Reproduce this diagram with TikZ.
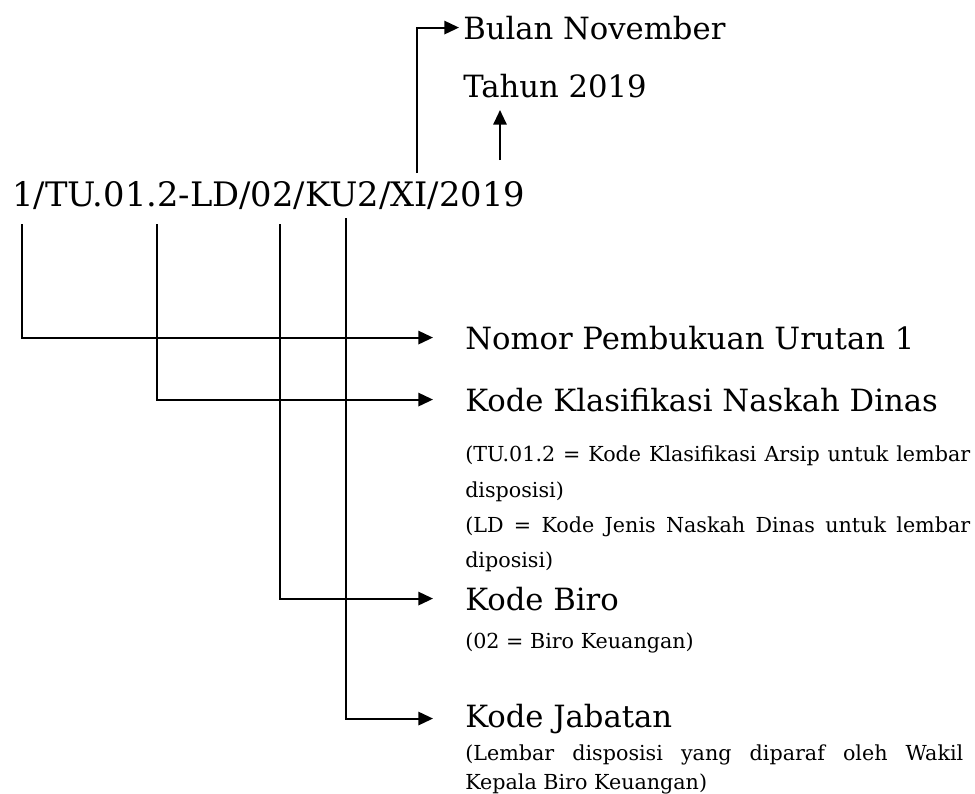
\documentclass[tikz,border=0pt]{standalone}
\usepackage{fontspec}
\setmainfont{DejaVu Serif}
\usetikzlibrary{arrows.meta}

\tikzset{
  big/.style={font=\fontsize{23}{27}\selectfont, inner sep=0pt, anchor=base west},
  note/.style={font=\fontsize{15.5}{18}\selectfont, inner sep=0pt, anchor=base west},
  link/.style={line width=1.5pt, -{Triangle[length=11pt,width=10pt]}},
}

\begin{document}
\begin{tikzpicture}[x=0.75pt,y=-0.75pt]
	\useasboundingbox (0,0) rectangle (975,793);
	% code and the parts it is split into
	\begin{scope}[every node/.style={big}]
		\node[font=\fontsize{25.3}{29}\selectfont] (code) at (12,206) {1/TU.01.2-LD/02/KU2/XI/2019};
		\node (bulan) at (463,39) {Bulan November};
		\node (tahun) at (463,97) {Tahun 2019};
		\node (nomor) at (465,349) {Nomor Pembukuan Urutan 1};
		\node (klas) at (465,411) {Kode Klasifikasi Naskah Dinas};
		\node (biro) at (465,610) {Kode Biro};
		\node (jab) at (465,727) {Kode Jabatan};
	\end{scope}
	\begin{scope}[every node/.style={note}]
		\node (klas1) at (465,461) {\makebox[378.75pt][s]{(TU.01.2 = Kode Klasifikasi Arsip untuk lembar}};
		\node (klas2) at (465,497) {disposisi)};
		\node (klas3) at (465,532) {\makebox[378.75pt][s]{(LD = Kode Jenis Naskah Dinas untuk lembar}};
		\node (klas4) at (465,567) {diposisi)};
		\node (biro1) at (465,648) {(02 = Biro Keuangan)};
		\node (jab1) at (465,760) {\makebox[373.5pt][s]{(Lembar disposisi yang diparaf oleh Wakil}};
		\node (jab2) at (465,789) {Kepala Biro Keuangan)};
	\end{scope}
	% where the lines leave the code
	\coordinate (xi) at (417,173);
	\coordinate (yr) at (500,160);
	\coordinate (c1) at (22,224);
	\coordinate (c2) at (157,224);
	\coordinate (c3) at (280,224);
	\coordinate (c4) at (346,218);
	\draw[link] (xi) |- ([xshift=-3pt]bulan.west);
	\draw[link] (yr) -- ++(0,-50);
	\draw[link] (c1) |- ([xshift=-24pt]nomor.west);
	\draw[link] (c2) |- ([xshift=-24pt]klas.west);
	\draw[link] (c3) |- ([xshift=-24pt]biro.west);
	\draw[link] (c4) |- ([xshift=-24pt]jab.west);
\end{tikzpicture}
\end{document}
